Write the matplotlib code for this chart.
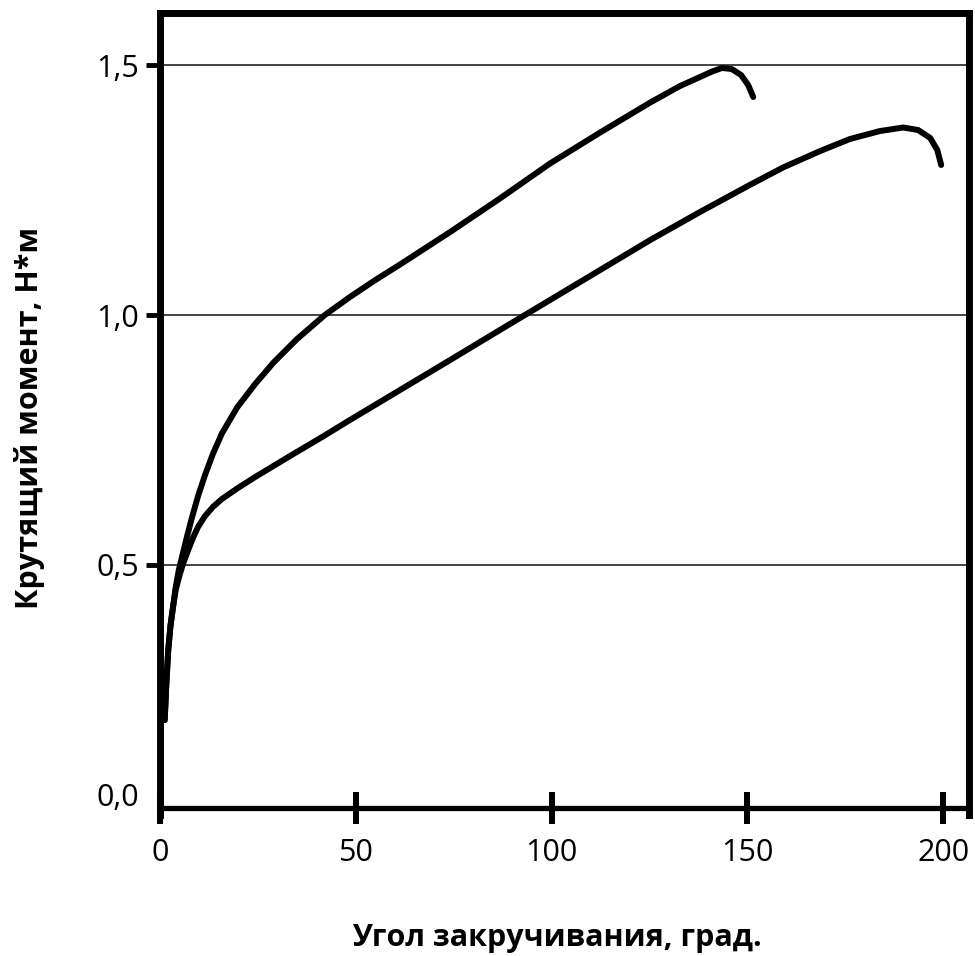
import matplotlib
matplotlib.use("Agg")
import matplotlib.pyplot as plt
from matplotlib.transforms import ScaledTranslation

# Data (angle in degrees, torque in N*m)
angle_a = [1.2, 1.6, 2.1, 2.7, 3.4, 4.0, 4.8, 5.9, 7.0, 8.2, 9.8, 11.5, 13.5, 15.8,
           19.7, 24.3, 29.0, 35.0, 42.1, 48.5, 55.0, 61.3, 74.1, 86.8, 99.6, 112.4,
           125.2, 132.8, 137.9, 141.0, 143.5, 146.0, 148.4, 150.2, 151.5]
torque_a = [0.19, 0.26, 0.33, 0.38, 0.42, 0.455, 0.49, 0.525, 0.56, 0.596, 0.64, 0.68,
            0.722, 0.763, 0.815, 0.862, 0.905, 0.952, 1.0, 1.036, 1.07, 1.101, 1.166,
            1.233, 1.303, 1.365, 1.425, 1.458, 1.476, 1.487, 1.494, 1.492, 1.48, 1.46, 1.436]
angle_b = [1.2, 1.6, 2.1, 2.7, 3.4, 4.0, 5.0, 6.0, 7.2, 8.4, 9.7, 11.5, 13.5, 15.8,
           19.9, 24.3, 33.2, 41.4, 48.5, 61.3, 74.1, 86.8, 99.6, 112.4, 125.2, 137.9,
           150.6, 159.1, 168.6, 176.2, 183.9, 189.8, 193.6, 196.7, 198.5, 199.5]
torque_b = [0.19, 0.26, 0.33, 0.38, 0.42, 0.45, 0.48, 0.505, 0.53, 0.554, 0.576, 0.598,
            0.616, 0.632, 0.654, 0.676, 0.718, 0.756, 0.79, 0.85, 0.91, 0.97, 1.03, 1.09,
            1.15, 1.206, 1.26, 1.295, 1.328, 1.352, 1.368, 1.375, 1.37, 1.354, 1.33, 1.30]

x_ticks = [0, 50, 100, 150, 200]
x_ticklabels = ["0", "50", "100", "150", "200"]
y_ticks = [0.0, 0.5, 1.0, 1.5]
y_ticklabels = ["0,0", "0,5", "1,0", "1,5"]
x_label = "Угол закручивания, град."
y_label = "Крутящий момент, Н*м"

plt.rcParams['font.family'] = ['Open Sans', 'DejaVu Sans']

fig = plt.figure(figsize=(9.75, 9.56), dpi=100)
W, H = 975, 956
left, right, top, bottom = 160, 969, 13, 815
ax = fig.add_axes([left / W, 1 - bottom / H, (right - left) / W, (bottom - top) / H])

ax.set_xlim(0, 206.6)
ax.set_ylim(0, 1.604)

for yv in [0.5, 1.0, 1.5]:
    ax.axhline(yv, color="#111111", lw=1.1, zorder=1)

ax.plot(angle_a, torque_a, color="black", lw=4.3, solid_capstyle="round",
        solid_joinstyle="round", zorder=3)
ax.plot(angle_b, torque_b, color="black", lw=4.3, solid_capstyle="round",
        solid_joinstyle="round", zorder=3)

for s in ["left", "top", "right"]:
    ax.spines[s].set_linewidth(5)
ax.spines["bottom"].set_linewidth(3.8)
ax.spines["bottom"].set_position(("data", 0.014))

ax.set_xticks(x_ticks)
ax.set_xticklabels(x_ticklabels)
ax.set_yticks(y_ticks)
ax.set_yticklabels(y_ticklabels)
ax.tick_params(axis="x", direction="inout", length=23, width=4.3, labelsize=22, pad=10)
ax.tick_params(axis="y", direction="out", length=10, width=3.5, labelsize=22, pad=5)

# "0,0" label sits a little above the axis line in the reference
lab0 = ax.get_yticklabels()[0]
lab0.set_transform(lab0.get_transform() + ScaledTranslation(0, 0.2, fig.dpi_scale_trans))
ax.yaxis.get_major_ticks()[0].tick1line.set_visible(False)

fig.text(557 / W, 1 - 938 / H, x_label, ha="center", va="center", fontsize=22, fontweight="bold")
fig.text(30 / W, 1 - 418 / H, y_label, ha="center", va="center", rotation=90, fontsize=22, fontweight="bold")

fig.savefig("out.png", dpi=100)
